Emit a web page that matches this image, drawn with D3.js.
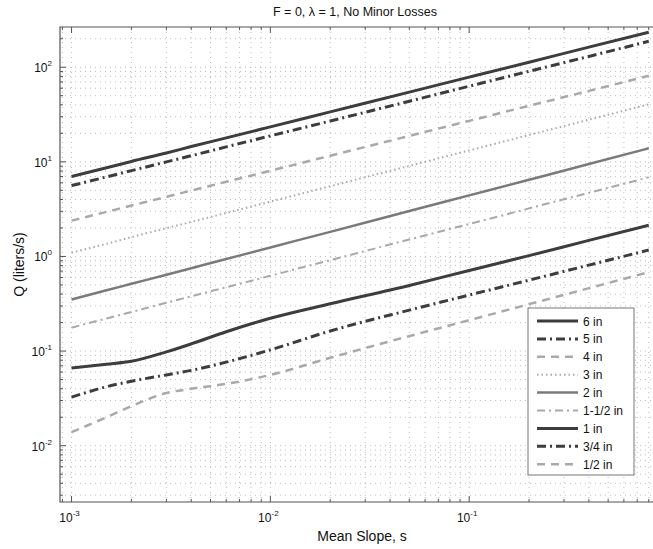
<!DOCTYPE html>
<html>
<head>
<meta charset="utf-8">
<script src="https://cdn.jsdelivr.net/npm/d3@7"></script>
<style>
  body { margin: 0; background: #fff; }
  text { font-family: "Liberation Sans", Arial, sans-serif; fill: #111; }
</style>
</head>
<body>
<svg id="chart"></svg>
<script>
const width = 653, height = 549;

// mean slope values (x) shared by every curve
const slopes = [0.001, 0.0015, 0.002, 0.003, 0.004, 0.006, 0.01, 0.02, 0.05, 0.1, 0.2, 0.4, 0.8];

// Q (liters/s) for each pipe size
const q6  = [7.0, 8.65, 10.1, 12.4, 14.5, 17.9, 23.4, 33.7, 54.6, 78.5, 113, 163, 234];
const q5  = [5.61, 6.93, 8.07, 9.98, 11.6, 14.4, 18.8, 27.0, 43.7, 63.0, 90.6, 130, 188];
const q4  = [2.39, 2.96, 3.45, 4.27, 4.97, 6.15, 8.05, 11.6, 18.8, 27.1, 39.1, 56.2, 81.1];
const q3  = [1.10, 1.36, 1.60, 1.99, 2.32, 2.88, 3.80, 5.53, 9.06, 13.2, 19.2, 27.9, 40.5];
const q2  = [0.351, 0.439, 0.514, 0.642, 0.752, 0.94, 1.245, 1.82, 3.02, 4.42, 6.47, 9.47, 13.9];
const q15 = [0.177, 0.221, 0.259, 0.324, 0.379, 0.473, 0.625, 0.914, 1.51, 2.20, 3.22, 4.70, 6.87];
const q1  = [0.0661, 0.0725, 0.078, 0.098, 0.119, 0.160, 0.222, 0.316, 0.493, 0.711, 1.02, 1.48, 2.14];
const q34 = [0.0326, 0.0420, 0.0480, 0.0560, 0.0625, 0.0764, 0.103, 0.163, 0.271, 0.391, 0.562, 0.81, 1.17];
const q12 = [0.0139, 0.0200, 0.0262, 0.0360, 0.0400, 0.0450, 0.0560, 0.0849, 0.144, 0.212, 0.313, 0.462, 0.682];

const seriesNames = ['6 in', '5 in', '4 in', '3 in', '2 in', '1-1/2 in', '1 in', '3/4 in', '1/2 in'];
const seriesValues = [q6, q5, q4, q3, q2, q15, q1, q34, q12];

// styles per series: colour, width, dash
const dark = '#3d3d3d', mid = '#7a7a7a', light = '#a9a9a9';
const styles = [
  {c: dark,  w: 3,   d: null},
  {c: dark,  w: 3,   d: '9,4,2,4'},
  {c: light, w: 2.5, d: '8,6'},
  {c: light, w: 2,   d: '1.5,3'},
  {c: mid,   w: 2.5, d: null},
  {c: light, w: 2,   d: '8,4,2,4'},
  {c: dark,  w: 3,   d: null},
  {c: dark,  w: 3,   d: '9,4,2,4'},
  {c: light, w: 2.5, d: '8,6'}
];

const marginLeft = 60, marginTop = 27, plotRight = 668, plotBottom = 502;

const svg = d3.select('#chart')
  .attr('width', width)
  .attr('height', height);

const x = d3.scaleLog()
  .domain([Math.pow(10, -3.058), 1])
  .range([marginLeft, plotRight]);
const y = d3.scaleLog()
  .domain([Math.pow(10, -2.595), Math.pow(10, 2.425)])
  .range([plotBottom, marginTop]);

svg.append('clipPath').attr('id', 'plotclip')
  .append('rect')
  .attr('x', marginLeft).attr('y', marginTop)
  .attr('width', plotRight - marginLeft).attr('height', plotBottom - marginTop);

const xt = x.ticks();
const yt = y.ticks();
const isMajor = (v) => Math.abs(Math.log10(v) - Math.round(Math.log10(v))) < 1e-6;

/* dotted grid */
const grid = svg.append('g').attr('clip-path', 'url(#plotclip)');
grid.selectAll('.vg').data(xt).join('line')
  .attr('x1', (d) => x(d)).attr('x2', (d) => x(d))
  .attr('y1', marginTop).attr('y2', plotBottom)
  .style('stroke', '#bdbdbd').style('stroke-width', 1)
  .style('stroke-dasharray', '1,4');
grid.selectAll('.hg').data(yt).join('line')
  .attr('y1', (d) => y(d)).attr('y2', (d) => y(d))
  .attr('x1', marginLeft).attr('x2', plotRight)
  .style('stroke', '#bdbdbd').style('stroke-width', 1)
  .style('stroke-dasharray', '1,4');

/* tick marks (inside) */
const ticks = svg.append('g').style('stroke', '#555').style('stroke-width', 1);
ticks.selectAll('.xb').data(xt).join('line')
  .attr('x1', (d) => x(d)).attr('x2', (d) => x(d))
  .attr('y1', plotBottom).attr('y2', (d) => plotBottom - (isMajor(d) ? 6 : 3));
ticks.selectAll('.xtop').data(xt).join('line')
  .attr('x1', (d) => x(d)).attr('x2', (d) => x(d))
  .attr('y1', marginTop).attr('y2', (d) => marginTop + (isMajor(d) ? 6 : 3));
ticks.selectAll('.yl').data(yt).join('line')
  .attr('y1', (d) => y(d)).attr('y2', (d) => y(d))
  .attr('x1', marginLeft).attr('x2', (d) => marginLeft + (isMajor(d) ? 6 : 3));

/* axes box */
svg.append('path')
  .attr('d', `M${plotRight},${marginTop}H${marginLeft}V${plotBottom}H${plotRight}`)
  .style('fill', 'none').style('stroke', '#555').style('stroke-width', 1.2);

/* tick labels 10^n */
function powLabel(sel, e) {
  sel.append('tspan').text('10').style('font-size', '12px');
  sel.append('tspan').text(e).style('font-size', '8px').attr('dy', -6);
}
xt.filter((v) => isMajor(v) && x(v) < width - 20).forEach((v) => {
  const t = svg.append('text')
    .attr('x', x(v) - 2).attr('y', plotBottom + 20)
    .attr('text-anchor', 'middle');
  powLabel(t, Math.round(Math.log10(v)));
});
yt.filter(isMajor).forEach((v) => {
  const t = svg.append('text')
    .attr('x', marginLeft - 8).attr('y', y(v) + 5)
    .attr('text-anchor', 'end');
  powLabel(t, Math.round(Math.log10(v)));
});

/* curves */
const line = d3.line()
  .x((d) => x(d[0]))
  .y((d) => y(d[1]))
  .curve(d3.curveMonotoneX);
const curves = svg.append('g').attr('clip-path', 'url(#plotclip)');
seriesValues.forEach((vals, i) => {
  curves.append('path')
    .datum(slopes.map((s, k) => [s, vals[k]]))
    .attr('d', line)
    .style('fill', 'none')
    .style('stroke', styles[i].c)
    .style('stroke-width', styles[i].w)
    .style('stroke-dasharray', styles[i].d)
    .style('stroke-linejoin', 'round');
});

/* titles */
svg.append('text').attr('x', 355).attr('y', 16).attr('text-anchor', 'middle')
  .style('font-size', '12.5px').text('F = 0, \u03bb = 1, No Minor Losses');
svg.append('text').attr('x', 362).attr('y', 541).attr('text-anchor', 'middle')
  .style('font-size', '14px').text('Mean Slope, s');
svg.append('text')
  .attr('transform', `translate(24,${(marginTop + plotBottom) / 2}) rotate(-90)`)
  .attr('text-anchor', 'middle')
  .style('font-size', '14px').text('Q (liters/s)');

/* legend */
const lg = svg.append('g');
lg.append('rect').attr('x', 528).attr('y', 308).attr('width', 106).attr('height', 167)
  .style('fill', '#fff').style('stroke', '#777').style('stroke-width', 1);
seriesNames.forEach((n, i) => {
  const ly = 321 + i * 17.9;
  lg.append('line').attr('x1', 537).attr('x2', 578).attr('y1', ly).attr('y2', ly)
    .style('stroke', styles[i].c).style('stroke-width', styles[i].w)
    .style('stroke-dasharray', styles[i].d);
  lg.append('text').attr('x', 583).attr('y', ly + 4.5)
    .style('font-size', '12px').text(n);
});
</script>
</body>
</html>
